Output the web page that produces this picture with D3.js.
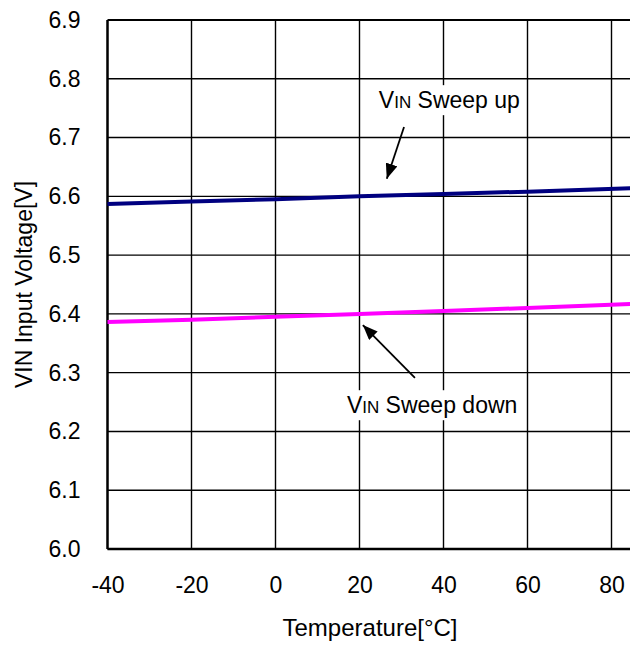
<!DOCTYPE html>
<html>
<head>
<meta charset="utf-8">
<script src="https://cdn.jsdelivr.net/npm/d3@7"></script>
<style>
  body { margin: 0; background: #fff; }
  text { font-family: "Liberation Sans", Arial, sans-serif; fill: #000; }
</style>
</head>
<body>
<div id="vis"></div>
<script>
// data
const temps = [-40, -20, 0, 20, 40, 60, 85];
const sweepUp = [6.587, 6.591, 6.595, 6.600, 6.604, 6.608, 6.614];
const sweepDown = [6.386, 6.390, 6.395, 6.400, 6.405, 6.410, 6.417];
const xTicks = [-40, -20, 0, 20, 40, 60, 80];
const yTicks = [6.0, 6.1, 6.2, 6.3, 6.4, 6.5, 6.6, 6.7, 6.8, 6.9];

const width = 630;
const height = 646;

const svg = d3.select('#vis')
    .append('svg')
    .attr('width', width)
    .attr('height', height);

const x = d3.scaleLinear().domain([-40, 85]).range([107.5, 632.5]);
const y = d3.scaleLinear().domain([6.0, 6.9]).range([549, 20]);

// grid
svg.append('g')
    .selectAll('line')
    .data(yTicks)
    .join('line')
    .attr('x1', x(-40)).attr('x2', width)
    .attr('y1', d => y(d)).attr('y2', d => y(d))
    .attr('stroke', '#000')
    .attr('stroke-width', (d, i) => i == yTicks.length - 1 ? 2 : 1.4);

svg.append('g')
    .selectAll('line')
    .data(xTicks)
    .join('line')
    .attr('x1', d => x(d)).attr('x2', d => x(d))
    .attr('y1', y(6.9)).attr('y2', y(6.0))
    .attr('stroke', '#000')
    .attr('stroke-width', 1.4);

// axis borders
svg.append('line')
    .attr('x1', x(-40)).attr('x2', x(-40))
    .attr('y1', y(6.9)).attr('y2', y(6.0))
    .attr('stroke', '#000').attr('stroke-width', 2.4);
svg.append('line')
    .attr('x1', x(-40)).attr('x2', width)
    .attr('y1', y(6.0)).attr('y2', y(6.0))
    .attr('stroke', '#000').attr('stroke-width', 2.4);

// tick labels
const xAxis = svg.append('g')
    .attr('transform', `translate(0,${y(6.0)})`)
    .call(d3.axisBottom(x).tickValues(xTicks).tickSize(0).tickPadding(44).tickFormat(d => String(d)));
xAxis.select('.domain').remove();
xAxis.selectAll('text').style('font-size', '23px').attr('dy', 0);

const yAxis = svg.append('g')
    .attr('transform', `translate(${x(-40)},0)`)
    .call(d3.axisLeft(y).tickValues(yTicks).tickSize(0).tickPadding(27).tickFormat(d3.format('.1f')));
yAxis.select('.domain').remove();
yAxis.selectAll('text').style('font-size', '23px');

// axis titles
svg.append('text')
    .attr('x', 370)
    .attr('y', 636)
    .attr('text-anchor', 'middle')
    .style('font-size', '24px')
    .text('Temperature[°C]');

svg.append('text')
    .attr('transform', `translate(32,${(y(6.0) + y(6.9)) / 2}) rotate(-90)`)
    .attr('text-anchor', 'middle')
    .style('font-size', '23px')
    .text('VIN Input Voltage[V]');

// series lines
const line = d3.line()
    .x((d, i) => x(temps[i]))
    .y(d => y(d));

svg.append('path')
    .datum(sweepUp)
    .attr('d', line)
    .attr('fill', 'none')
    .attr('stroke', '#000080')
    .attr('stroke-width', 4);

svg.append('path')
    .datum(sweepDown)
    .attr('d', line)
    .attr('fill', 'none')
    .attr('stroke', '#ff00ff')
    .attr('stroke-width', 4);

// annotations (data coordinates)
const labels = [
    {t: 24.6, v: 6.750, rest: ' Sweep up', from: [30.6, 6.718], to: [26.5, 6.630]},
    {t: 17.0, v: 6.231, rest: ' Sweep down', from: [33.2, 6.291], to: [20.8, 6.381]}
];

svg.append('defs').append('marker')
    .attr('id', 'head')
    .attr('viewBox', '0 0 15 12')
    .attr('refX', 15).attr('refY', 6)
    .attr('markerWidth', 15).attr('markerHeight', 12)
    .attr('markerUnits', 'userSpaceOnUse')
    .attr('orient', 'auto')
    .append('path')
    .attr('d', 'M0,0 L15,6 L0,12 Z')
    .attr('fill', '#000');

labels.forEach(d => {
    const g = svg.append('g');
    const box = g.append('rect').attr('fill', '#fff');
    const txt = g.append('text')
        .attr('x', x(d.t))
        .attr('y', y(d.v))
        .style('font-size', '23px');
    txt.append('tspan').text('V');
    txt.append('tspan').style('font-size', '17px').text('IN');
    txt.append('tspan').text(d.rest);
    const b = txt.node().getBBox();
    box.attr('x', b.x - 5).attr('y', b.y - 2)
        .attr('width', b.width + 10).attr('height', b.height + 4);

    svg.append('line')
        .attr('x1', x(d.from[0])).attr('y1', y(d.from[1]))
        .attr('x2', x(d.to[0])).attr('y2', y(d.to[1]))
        .attr('stroke', '#000')
        .attr('stroke-width', 1.8)
        .attr('marker-end', 'url(#head)');
});
</script>
</body>
</html>
